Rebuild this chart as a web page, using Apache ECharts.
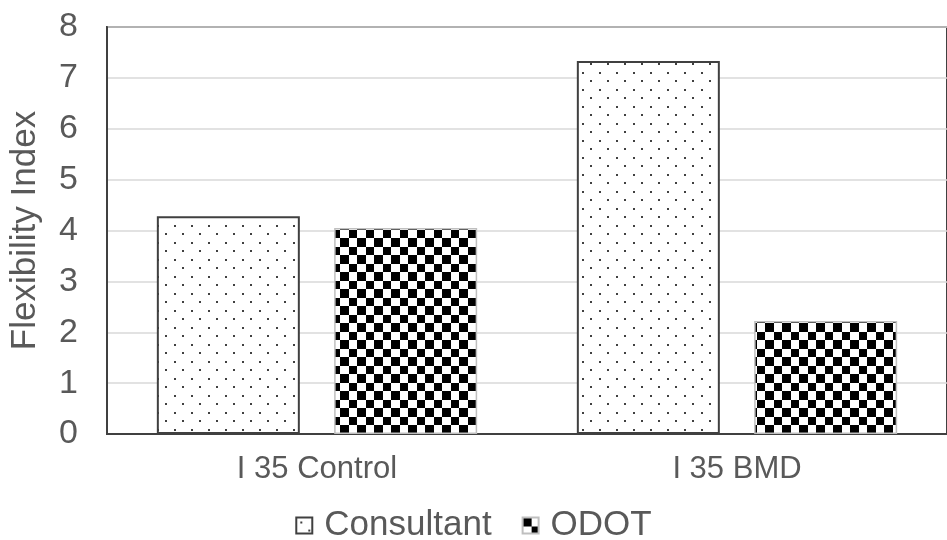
<!DOCTYPE html>
<html>
<head>
<meta charset="utf-8">
<script src="https://cdn.jsdelivr.net/npm/echarts@6/dist/echarts.min.js"></script>
<style>html,body{margin:0;padding:0;background:#fff}#c{width:947px;height:540px}</style>
</head>
<body>
<div id="c"></div>
<script>
const categories = ['I 35 Control', 'I 35 BMD'];
const consultant = [4.28, 7.33];
const odot = [4.05, 2.22];
const yTicks = [0, 1, 2, 3, 4, 5, 6, 7, 8];

function dotPattern() {
  const c = document.createElement('canvas');
  c.width = 17; c.height = 17;
  const g = c.getContext('2d');
  g.fillStyle = '#fff'; g.fillRect(0, 0, 17, 17);
  g.fillStyle = '#404040';
  g.fillRect(4, 4, 2, 2);
  g.fillRect(12, 12, 2, 2);
  return c;
}
function checkPattern() {
  const c = document.createElement('canvas');
  c.width = 17; c.height = 17;
  const g = c.getContext('2d');
  g.fillStyle = '#fff'; g.fillRect(0, 0, 17, 17);
  g.fillStyle = '#000';
  g.fillRect(0, 0, 9, 9);
  g.fillRect(9, 9, 8, 8);
  return c;
}

const chart = echarts.init(document.getElementById('c'));
const font = 'Liberation Sans, Arial, sans-serif';
chart.setOption({
  animation: false,
  backgroundColor: '#fff',
  grid: { left: 101, top: 27, width: 850, bottom: 106, show: true, borderColor: '#404040', borderWidth: 2 },
  legend: {
    top: 503, left: 'center', itemWidth: 16, itemHeight: 16, itemGap: 30, icon: 'rect',
    textStyle: { fontFamily: font, fontSize: 35, color: '#595959', padding: [0, 0, 0, 7] },
    data: ['Consultant', 'ODOT']
  },
  xAxis: {
    type: 'category', data: categories,
    axisLine: { lineStyle: { color: '#404040', width: 2 } },
    axisTick: { show: false },
    axisLabel: { fontFamily: font, fontSize: 31, color: '#595959', margin: 20 }
  },
  yAxis: {
    type: 'value', min: yTicks[0], max: yTicks[yTicks.length - 1], interval: 1,
    name: 'Flexibility Index', nameLocation: 'middle', nameGap: 64,
    nameTextStyle: { fontFamily: font, fontSize: 35, color: '#595959' },
    axisLine: { show: true, lineStyle: { color: '#404040', width: 2 } },
    axisLabel: { fontFamily: font, fontSize: 34, color: '#595959', margin: 29 },
    splitLine: { lineStyle: { color: '#d9d9d9', width: 1.5 } }
  },
  series: [
    {
      name: 'Consultant', type: 'bar', data: consultant, barWidth: 143, barGap: '24%',
      itemStyle: { color: { image: dotPattern(), repeat: 'repeat' }, borderColor: '#404040', borderWidth: 2 }
    },
    {
      name: 'ODOT', type: 'bar', data: odot, barWidth: 143,
      itemStyle: { color: { image: checkPattern(), repeat: 'repeat' }, borderColor: '#bfbfbf', borderWidth: 1.5 }
    }
  ]
});
</script>
</body>
</html>
